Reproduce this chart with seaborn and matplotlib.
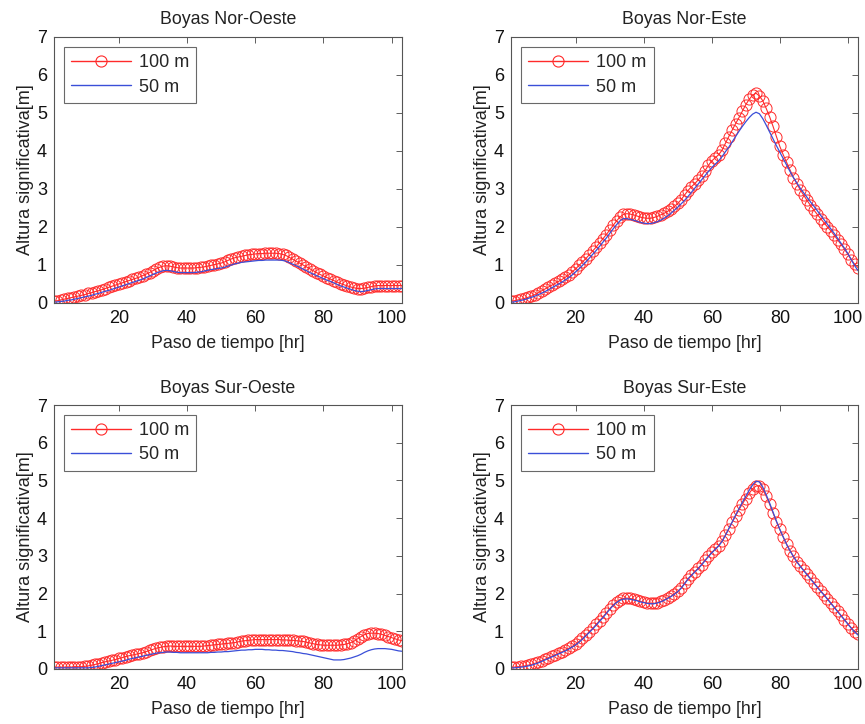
import numpy as np
import pandas as pd
import matplotlib
matplotlib.use("Agg")
import matplotlib.pyplot as plt
from matplotlib.lines import Line2D
import seaborn as sns

hours = list(range(1, 104))

titles = ["Boyas Nor-Oeste", "Boyas Nor-Este", "Boyas Sur-Oeste", "Boyas Sur-Este"]
series_labels = ["100 m", "50 m"]
x_label = "Paso de tiempo [hr]"
y_label = "Altura significativa[m]"
x_ticks = [20, 40, 60, 80, 100]
y_ticks = [0, 1, 2, 3, 4, 5, 6, 7]

nw_100 = [0.05, 0.06, 0.08, 0.10, 0.12, 0.14, 0.16, 0.18, 0.20, 0.22,
          0.25, 0.27, 0.30, 0.32, 0.35, 0.38, 0.41, 0.44, 0.47, 0.50,
          0.53, 0.56, 0.59, 0.62, 0.65, 0.68, 0.72, 0.76, 0.80, 0.85,
          0.90, 0.94, 0.97, 0.98, 0.97, 0.95, 0.93, 0.92, 0.92, 0.92,
          0.92, 0.92, 0.93, 0.94, 0.95, 0.97, 0.99, 1.01, 1.03, 1.05,
          1.08, 1.12, 1.16, 1.19, 1.21, 1.23, 1.25, 1.27, 1.28, 1.29,
          1.30, 1.30, 1.31, 1.31, 1.31, 1.31, 1.30, 1.28, 1.25, 1.20,
          1.15, 1.10, 1.05, 1.00, 0.95, 0.90, 0.85, 0.80, 0.75, 0.71,
          0.67, 0.63, 0.59, 0.55, 0.51, 0.48, 0.45, 0.42, 0.40, 0.38,
          0.38, 0.39, 0.41, 0.43, 0.45, 0.46, 0.46, 0.46, 0.46, 0.46,
          0.46, 0.46, 0.46]
nw_50 = [0.02, 0.03, 0.04, 0.05, 0.07, 0.08, 0.10, 0.12, 0.14, 0.16,
         0.18, 0.20, 0.23, 0.25, 0.28, 0.31, 0.33, 0.36, 0.39, 0.42,
         0.45, 0.48, 0.51, 0.54, 0.57, 0.60, 0.63, 0.67, 0.71, 0.75,
         0.79, 0.82, 0.85, 0.86, 0.85, 0.83, 0.81, 0.80, 0.80, 0.80,
         0.80, 0.80, 0.81, 0.82, 0.84, 0.86, 0.88, 0.89, 0.91, 0.92,
         0.94, 0.97, 1.00, 1.03, 1.05, 1.07, 1.08, 1.09, 1.10, 1.11,
         1.12, 1.12, 1.13, 1.13, 1.13, 1.13, 1.13, 1.12, 1.10, 1.06,
         1.02, 0.98, 0.94, 0.89, 0.85, 0.80, 0.76, 0.72, 0.68, 0.64,
         0.60, 0.57, 0.53, 0.49, 0.45, 0.42, 0.39, 0.36, 0.33, 0.31,
         0.30, 0.31, 0.33, 0.35, 0.37, 0.38, 0.38, 0.38, 0.38, 0.38,
         0.38, 0.38, 0.38]

ne_100 = [0.05, 0.06, 0.08, 0.10, 0.12, 0.15, 0.18, 0.22, 0.27, 0.32,
          0.37, 0.42, 0.47, 0.52, 0.57, 0.62, 0.68, 0.74, 0.82, 0.90,
          0.99, 1.08, 1.17, 1.27, 1.37, 1.47, 1.58, 1.69, 1.80, 1.92,
          2.04, 2.16, 2.26, 2.33, 2.35, 2.34, 2.32, 2.29, 2.26, 2.24,
          2.23, 2.23, 2.25, 2.28, 2.32, 2.36, 2.41, 2.47, 2.54, 2.62,
          2.72, 2.84, 2.96, 3.06, 3.14, 3.24, 3.35, 3.48, 3.62, 3.74,
          3.82, 3.90, 4.02, 4.20, 4.38, 4.55, 4.72, 4.88, 5.05, 5.22,
          5.36, 5.47, 5.52, 5.45, 5.32, 5.12, 4.90, 4.65, 4.38, 4.12,
          3.90, 3.70, 3.50, 3.30, 3.14, 2.98, 2.84, 2.70, 2.57, 2.45,
          2.33, 2.22, 2.11, 2.00, 1.90, 1.78, 1.66, 1.54, 1.42, 1.28,
          1.14, 1.02, 0.93]
ne_50 = [0.02, 0.03, 0.05, 0.07, 0.09, 0.12, 0.15, 0.18, 0.22, 0.26,
         0.30, 0.35, 0.40, 0.45, 0.50, 0.55, 0.61, 0.67, 0.74, 0.82,
         0.90, 0.99, 1.08, 1.18, 1.28, 1.38, 1.49, 1.60, 1.71, 1.83,
         1.95, 2.06, 2.16, 2.22, 2.22, 2.20, 2.18, 2.15, 2.12, 2.10,
         2.09, 2.09, 2.11, 2.14, 2.18, 2.23, 2.29, 2.36, 2.44, 2.52,
         2.61, 2.70, 2.80, 2.91, 3.02, 3.13, 3.24, 3.35, 3.46, 3.56,
         3.65, 3.74, 3.85, 3.98, 4.10, 4.24, 4.38, 4.52, 4.65, 4.77,
         4.88, 4.97, 5.02, 4.98, 4.85, 4.68, 4.50, 4.32, 4.14, 3.97,
         3.80, 3.63, 3.46, 3.30, 3.16, 3.02, 2.90, 2.78, 2.66, 2.55,
         2.43, 2.31, 2.19, 2.07, 1.95, 1.83, 1.70, 1.57, 1.44, 1.30,
         1.14, 0.98, 0.85]

sw_100 = [0.05, 0.05, 0.05, 0.05, 0.05, 0.05, 0.06, 0.06, 0.06, 0.07,
          0.08, 0.10, 0.12, 0.14, 0.17, 0.19, 0.21, 0.23, 0.25, 0.28,
          0.30, 0.33, 0.35, 0.37, 0.39, 0.41, 0.43, 0.46, 0.49, 0.52,
          0.55, 0.57, 0.59, 0.60, 0.61, 0.60, 0.60, 0.60, 0.60, 0.60,
          0.60, 0.60, 0.60, 0.60, 0.61, 0.62, 0.63, 0.64, 0.65, 0.66,
          0.67, 0.68, 0.69, 0.70, 0.72, 0.74, 0.75, 0.76, 0.77, 0.78,
          0.78, 0.78, 0.78, 0.78, 0.78, 0.78, 0.78, 0.77, 0.77, 0.76,
          0.76, 0.75, 0.74, 0.73, 0.71, 0.69, 0.67, 0.65, 0.64, 0.63,
          0.63, 0.63, 0.63, 0.63, 0.64, 0.65, 0.67, 0.70, 0.74, 0.80,
          0.86, 0.91, 0.94, 0.95, 0.95, 0.94, 0.92, 0.89, 0.86, 0.83,
          0.80, 0.77, 0.75]
sw_50 = [0.03, 0.03, 0.03, 0.03, 0.03, 0.03, 0.03, 0.03, 0.03, 0.03,
         0.03, 0.04, 0.05, 0.07, 0.09, 0.11, 0.13, 0.15, 0.17, 0.19,
         0.21, 0.23, 0.26, 0.28, 0.30, 0.32, 0.34, 0.36, 0.38, 0.40,
         0.42, 0.43, 0.44, 0.45, 0.45, 0.44, 0.44, 0.43, 0.43, 0.43,
         0.43, 0.43, 0.43, 0.43, 0.43, 0.43, 0.44, 0.44, 0.45, 0.45,
         0.46, 0.46, 0.47, 0.48, 0.49, 0.50, 0.50, 0.51, 0.51, 0.52,
         0.52, 0.52, 0.51, 0.51, 0.50, 0.50, 0.49, 0.49, 0.48, 0.47,
         0.46, 0.44, 0.43, 0.41, 0.40, 0.38, 0.36, 0.34, 0.32, 0.30,
         0.28, 0.26, 0.24, 0.24, 0.24, 0.25, 0.27, 0.29, 0.32, 0.35,
         0.39, 0.44, 0.48, 0.51, 0.53, 0.54, 0.54, 0.54, 0.53, 0.52,
         0.50, 0.48, 0.47]

se_100 = [0.05, 0.05, 0.06, 0.07, 0.08, 0.10, 0.12, 0.15, 0.18, 0.22,
          0.26, 0.30, 0.34, 0.38, 0.42, 0.46, 0.50, 0.55, 0.60, 0.66,
          0.73, 0.81, 0.90, 0.99, 1.08, 1.18, 1.28, 1.38, 1.49, 1.60,
          1.70, 1.78, 1.84, 1.87, 1.88, 1.87, 1.85, 1.82, 1.79, 1.77,
          1.75, 1.74, 1.74, 1.76, 1.79, 1.83, 1.88, 1.93, 1.99, 2.06,
          2.15, 2.27, 2.39, 2.49, 2.58, 2.67, 2.77, 2.88, 2.99, 3.09,
          3.18, 3.27, 3.39, 3.55, 3.72, 3.89, 4.06, 4.22, 4.38, 4.52,
          4.66, 4.78, 4.85, 4.86, 4.76, 4.58, 4.37, 4.14, 3.91, 3.70,
          3.50, 3.31, 3.14, 2.99, 2.85, 2.73, 2.62, 2.51, 2.40, 2.29,
          2.18, 2.07, 1.97, 1.86, 1.75, 1.64, 1.53, 1.42, 1.31, 1.20,
          1.09, 0.99, 0.92]
se_50 = [0.03, 0.03, 0.04, 0.05, 0.06, 0.08, 0.10, 0.13, 0.16, 0.20,
         0.24, 0.28, 0.32, 0.36, 0.40, 0.44, 0.48, 0.53, 0.58, 0.64,
         0.71, 0.79, 0.88, 0.97, 1.06, 1.16, 1.26, 1.36, 1.47, 1.58,
         1.68, 1.76, 1.82, 1.85, 1.86, 1.85, 1.83, 1.81, 1.78, 1.76,
         1.74, 1.73, 1.73, 1.75, 1.78, 1.82, 1.87, 1.92, 1.98, 2.05,
         2.14, 2.26, 2.38, 2.48, 2.57, 2.66, 2.76, 2.87, 2.98, 3.08,
         3.17, 3.26, 3.38, 3.54, 3.72, 3.90, 4.08, 4.25, 4.42, 4.58,
         4.74, 4.88, 4.98, 4.96, 4.82, 4.62, 4.40, 4.16, 3.92, 3.70,
         3.50, 3.30, 3.13, 2.98, 2.84, 2.72, 2.61, 2.50, 2.39, 2.28,
         2.17, 2.06, 1.96, 1.85, 1.74, 1.63, 1.52, 1.41, 1.30, 1.19,
         1.08, 0.98, 0.90]

panels = [(nw_100, nw_50), (ne_100, ne_50), (sw_100, sw_50), (se_100, se_50)]

RED = "#ff2a2a"
BLUE = "#3a4fd8"

sns.set_style("white")
plt.rcParams["font.family"] = ["Liberation Sans", "DejaVu Sans"]

fig = plt.figure(figsize=(8.65, 7.24), dpi=100)
positions = [
    [0.0624, 0.5815, 0.4023, 0.3674],
    [0.5908, 0.5815, 0.4012, 0.3674],
    [0.0624, 0.0760, 0.4023, 0.3646],
    [0.5908, 0.0760, 0.4012, 0.3646],
]

for pos, title, (s100, s50) in zip(positions, titles, panels):
    ax = fig.add_axes(pos)
    df = pd.DataFrame({"hr": hours, "h100": s100, "h50": s50})
    sns.lineplot(data=df, x="hr", y="h100", ax=ax, color=RED,
                 linewidth=0.8, marker="o", markersize=8,
                 markerfacecolor="none", markeredgecolor=RED,
                 markeredgewidth=0.7, legend=False)
    sns.lineplot(data=df, x="hr", y="h50", ax=ax, color=BLUE,
                 linewidth=0.9, legend=False)
    ax.set_xlim(1, 103)
    ax.set_ylim(0, 7)
    ax.set_xticks(x_ticks)
    ax.set_yticks(y_ticks)
    ax.tick_params(direction="in", top=True, right=True, length=4,
                   width=0.6, color="#444444", labelsize=13,
                   labelcolor="#111111", pad=5)
    for sp in ax.spines.values():
        sp.set_visible(True)
        sp.set_color("#555555")
        sp.set_linewidth(0.8)
    ax.set_title(title, fontsize=12.8, color="#222222", pad=9)
    ax.set_xlabel(x_label, fontsize=12.8, color="#222222", labelpad=6)
    ax.set_ylabel(y_label, fontsize=13, color="#222222", labelpad=2)
    h100 = Line2D([], [], color=RED, linewidth=1.0, marker="o",
                  markersize=8, markerfacecolor="none",
                  markeredgecolor=RED, markeredgewidth=0.8)
    h50 = Line2D([], [], color=BLUE, linewidth=1.0)
    leg = ax.legend(handles=[h100, h50], labels=series_labels,
                    loc="upper left", bbox_to_anchor=(0.029, 0.962),
                    borderaxespad=0, fontsize=13, handlelength=3.3,
                    handletextpad=0.45, frameon=True, fancybox=False,
                    borderpad=0.4, labelspacing=0.4)
    leg.get_frame().set_edgecolor("#444444")
    leg.get_frame().set_linewidth(0.8)

fig.savefig("out.png", dpi=100)
